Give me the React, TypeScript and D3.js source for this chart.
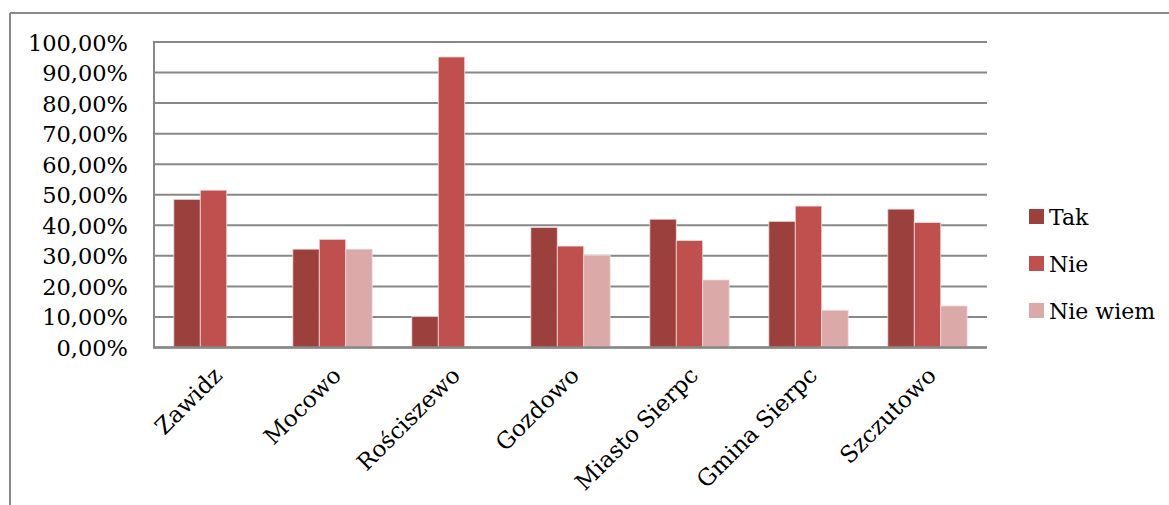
import React from "react";
import * as d3 from "d3";

const categories = ["Zawidz", "Mocowo", "Rościszewo", "Gozdowo", "Miasto Sierpc", "Gmina Sierpc", "Szczutowo"];
const seriesNames = ["Tak", "Nie", "Nie wiem"];
const takValues = [48.5, 32.2, 10.1, 39.3, 42.0, 41.3, 45.3];
const nieValues = [51.5, 35.4, 95.1, 33.2, 35.0, 46.3, 40.9];
const nieWiemValues = [0, 32.2, 0, 30.2, 22.1, 12.2, 13.6];
const yTicks = [0, 10, 20, 30, 40, 50, 60, 70, 80, 90, 100];
const colors = ["#9c403e", "#c0504d", "#dba9a8"];

const W = 1169;
const H = 505;
const plot = { left: 154, right: 987, top: 42, bottom: 347.5 };
const FONT = "'DejaVu Serif', serif";

export default function App() {
  const series = [takValues, nieValues, nieWiemValues];
  const x0 = d3.scaleBand<string>().domain(categories).range([plot.left, plot.right]).paddingInner(0).paddingOuter(0);
  const groupW = x0.bandwidth();
  const barW = groupW / 4.5;
  const x1 = d3.scaleBand<string>().domain(seriesNames).range([0, barW * 3]);
  const y = d3.scaleLinear().domain([0, 100]).range([plot.bottom, plot.top]);
  const fmt = (v: number) => v.toFixed(2).replace(".", ",") + "%";

  return (
    <svg width={W} height={H} style={{ position: "absolute", left: 0, top: 0, background: "#fff" }}>
      <rect x={0} y={0} width={W} height={H} fill="#fff" />
      {/* outer frame */}
      <line x1={10} y1={13} x2={W} y2={13} stroke="#898989" strokeWidth={2} />
      <line x1={10} y1={13} x2={10} y2={H} stroke="#898989" strokeWidth={2} />
      {/* gridlines */}
      {yTicks.map((t) => (
        <line key={t} x1={plot.left} x2={plot.right} y1={y(t)} y2={y(t)} stroke="#888" strokeWidth={2} />
      ))}
      {/* left axis */}
      <line x1={plot.left} x2={plot.left} y1={plot.top - 1} y2={plot.bottom} stroke="#888" strokeWidth={2} />
      {/* tick labels */}
      {yTicks.map((t) => (
        <text key={t} x={128} y={y(t) + 8.5} textAnchor="end" fontFamily={FONT} fontSize={22.5} fill="#000">
          {fmt(t)}
        </text>
      ))}
      {/* bars */}
      {categories.map((c, i) => (
        <g key={c} transform={`translate(${(x0(c) as number) + (groupW - barW * 3) / 2},0)`}>
          {series.map((s, j) =>
            s[i] > 0 ? (
              <rect
                key={j}
                x={x1(seriesNames[j]) as number}
                y={y(s[i])}
                width={x1.bandwidth()}
                height={plot.bottom - y(s[i])}
                fill={colors[j]}
                stroke="#f2dcdb"
                strokeWidth={0.8}
              />
            ) : null
          )}
        </g>
      ))}
      {/* bottom axis */}
      <line x1={plot.left - 1} x2={plot.right} y1={plot.bottom} y2={plot.bottom} stroke="#888" strokeWidth={2.5} />
      {/* category labels */}
      {categories.map((c) => {
        const cx = (x0(c) as number) + groupW / 2;
        return (
          <text
            key={c}
            transform={`translate(${cx + 10},${377}) rotate(-45)`}
            textAnchor="end"
            fontFamily={FONT}
            fontSize={23}
            fill="#000"
          >
            {c}
          </text>
        );
      })}
      {/* legend */}
      {seriesNames.map((n, j) => (
        <g key={n} transform={`translate(1029,${209 + j * 47})`}>
          <rect x={0} y={0} width={15} height={15} fill={colors[j]} />
          <text x={20} y={15.5} fontFamily={FONT} fontSize={22} fill="#000">
            {n}
          </text>
        </g>
      ))}
    </svg>
  );
}
